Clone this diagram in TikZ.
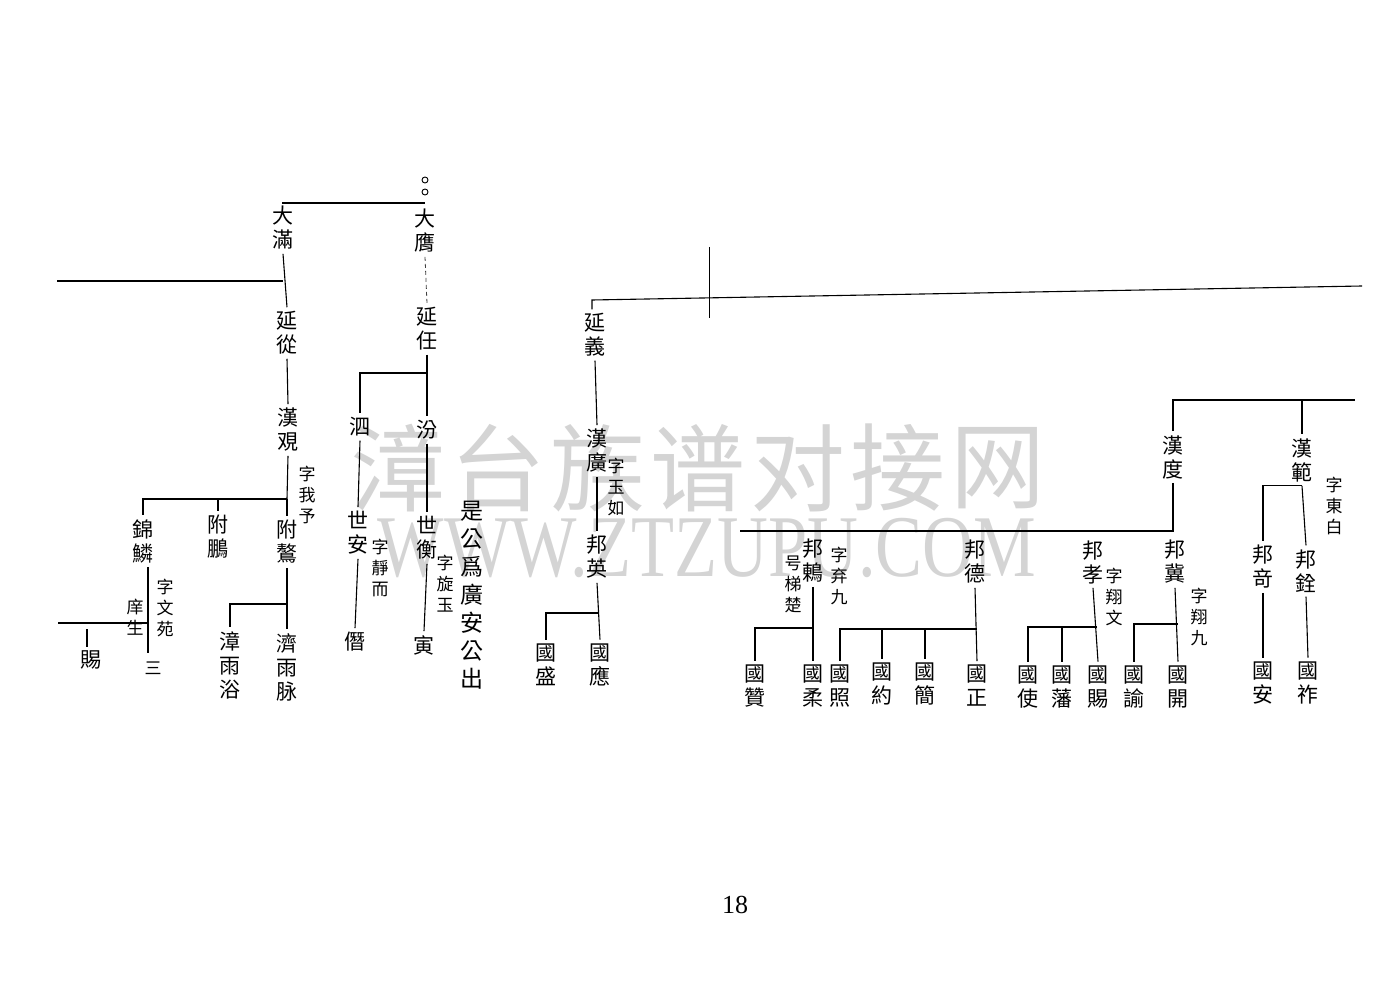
\documentclass[tikz,border=0pt]{standalone}
\usepackage{fontspec}
\newfontfamily\cjk{Noto Sans CJK TC}
\newfontfamily\cjksc{Noto Sans CJK SC}
\newfontfamily\wmser{Liberation Serif}
\begin{document}
\begin{tikzpicture}[x=1pt,y=-1pt,
  ln/.style={line width=1.1pt},
  nm/.style={font=\cjk\fontsize{21}{24}\selectfont, align=center, inner xsep=1pt, inner ysep=4pt},
  nt/.style={font=\cjk\fontsize{17}{21}\selectfont, align=center, inner sep=1pt},
  dot/.style={draw, circle, inner sep=0pt, minimum size=6pt, line width=0.9pt},
  wm/.style={font=\cjksc\fontsize{95}{95}\selectfont, text=black!17, inner sep=0pt}]
\useasboundingbox (0,0) rectangle (1400,1000);
% watermark
\foreach \c [count=\i from 0] in {漳,台,族,谱,对,接,网}
  \node[wm] (w\i) at (398+100*\i,468) {\c};
\node[font=\wmser\fontsize{88}{88}\selectfont, text=black!17, inner sep=0pt] (wurl) at (707,548) {\scalebox{0.8}[1]{WWW.ZTZUPU.COM}};

% ---------- left part ----------
\node[nm] (dm) at (283,228) {大\\滿};
\node[nm] (dy) at (425,231) {大\\膺};
\node[dot] (o1) at (425,180) {};
\node[dot] (o2) at (425,192) {};
\coordinate (j0) at (425,203);
\draw[ln] (dm.north) |- (j0);
\node[nm] (yc) at (287,333) {延\\從};
\draw[ln] (dm.south) -- (yc.north);
\coordinate (L1) at (57,281);
\draw[ln] (L1) -- (L1 -| dm.south);
\node[nm] (hg) at (288,430) {漢\\覌};
\draw[ln] (yc.south) -- (hg.north);
\node[nt] (n1) at (307,495) {字\\我\\予};
\coordinate (j1) at (287,499);
\draw[ln] (hg.south) -- (j1);
\node[nm] (jl) at (143,541) {錦\\鱗};
\node[nm] (fp) at (218,537) {附\\鵬};
\node[nm] (fa) at (287,542) {附\\鷔};
\draw[ln] (j1) -| (jl.north);
\draw[ln] (fp.north |- j1) -- (fp.north);
\draw[ln] (j1) -- (fa.north);
\node[nt] (n2) at (165,608) {字\\文\\苑};
\node[nt] (n3) at (135,617) {庠\\生};
\node[nt] (n4) at (153,668) {三};
\coordinate (k2) at (148,653);
\draw[ln] (jl.south -| k2) -- (k2);
\coordinate (L2) at (58,623);
\draw[ln] (L2) -- (L2 -| k2);
\node[nm] (ci) at (91,660) {賜};
\coordinate (t2) at (87,629);
\draw[ln] (t2) -- (t2 |- ci.north);
\node[nm] (z1) at (230,665) {漳\\雨\\浴};
\node[nm] (z2) at (287,667) {濟\\雨\\脉};
\coordinate (j3) at (285,604);
\draw[ln] (fa.south) -- (z2.north);
\draw[ln] (fa.south |- j3) -| (z1.north);

\node[nm] (yr) at (427,329) {延\\任};
\draw[line width=0.8pt, black!75, dash pattern=on 4pt off 3pt] (dy.south) -- (yr.north);
\node[nm] (si) at (360,427) {泗};
\node[nm] (fe) at (427,430) {汾};
\draw[ln] (yr.south) -- (fe.north);
\coordinate (j4) at (427,373);
\draw[ln] (j4) -| (si.north);
\node[nm] (sa) at (358,533) {世\\安};
\node[nt] (n5) at (380,568) {字\\靜\\而};
\node[nm] (sh) at (427,538) {世\\衡};
\node[nt] (n6) at (445,584) {字\\旋\\玉};
\draw[ln] (si.south) -- (sa.north);
\draw[ln] (fe.south) -- (sh.north);
\node[nm] (jn) at (355,642) {僭};
\node[nm] (yn) at (424,645) {寅};
\draw[ln] (sa.south) -- (jn.north);
\draw[ln] (sh.south) -- (yn.north);
\node[font=\cjk\fontsize{23}{28}\selectfont, align=center, inner sep=0pt] (n7) at (472,595) {是\\公\\爲\\廣\\安\\公\\出};

% ---------- middle part ----------
\node[nm] (yi) at (595,335) {延\\義};
\coordinate (t1) at (592,300);
\coordinate (R1) at (1362,286);
\draw[ln] (t1 |- yi.north) -- (t1) -- (R1);
\coordinate (v1) at (709,247);
\coordinate (v2) at (709,318);
\draw[line width=0.8pt] (v1) -- (v2);
\node[nm] (hk) at (597,451) {漢\\廣};
\node[nt] (n8) at (616,487) {字\\玉\\如};
\draw[ln] (yi.south) -- (hk.north);
\node[nm] (by) at (597,557) {邦\\英};
\draw[ln] (hk.south) -- (by.north);
\node[nm] (gs) at (546,665) {國\\盛};
\node[nm] (gy) at (600,665) {國\\應};
\draw[ln] (by.south) -- (gy.north);
\coordinate (j5) at (598,613);
\draw[ln] (j5) -| (gs.north);

% ---------- right part ----------
\node[nm] (hd) at (1173,457) {漢\\度};
\node[nm] (hf) at (1302,460) {漢\\範};
\node[nt] (n9) at (1334,506) {字\\東\\白};
\coordinate (R2) at (1355,400);
\draw[ln] (hd.north) |- (R2);
\draw[ln] (hf.north |- R2) -- (hf.north);
\coordinate (L3) at (740,531);
\draw[ln] (hd.south) |- (L3);

\node[nm] (bd) at (813,561) {邦\\鶇};
\node[nt] (n10) at (793,584) {号\\梯\\楚};
\node[nt] (n11) at (839,576) {字\\弃\\九};
\node[nm] (ga) at (755,686) {國\\贊};
\node[nm] (gr) at (813,686) {國\\柔};
\draw[ln] (bd.south) -- (gr.north);
\coordinate (j6) at (813,628);
\draw[ln] (j6) -| (ga.north);

\node[nm] (bde) at (975,562) {邦\\德};
\node[nm] (gzh) at (840,686) {國\\照};
\node[nm] (gyu) at (882,684) {國\\約};
\node[nm] (gj) at (925,684) {國\\簡};
\node[nm] (gzg) at (977,686) {國\\正};
\draw[ln] (bde.south) -- (gzg.north);
\coordinate (j7) at (977,629);
\draw[ln] (j7) -| (gzh.north);
\draw[ln] (gyu.north |- j7) -- (gyu.north);
\draw[ln] (gj.north |- j7) -- (gj.north);

\node[nm] (bx) at (1093,562) {邦\\孝};
\node[nt] (n12) at (1114,597) {字\\翔\\文};
\node[nm] (gsh) at (1028,687) {國\\使};
\node[nm] (gf) at (1062,687) {國\\藩};
\node[nm] (gc) at (1098,687) {國\\賜};
\draw[ln] (bx.south) -- (gc.north);
\coordinate (j8) at (1097,627);
\draw[ln] (j8) -| (gsh.north);
\draw[ln] (gf.north |- j8) -- (gf.north);

\node[nm] (bj) at (1175,562) {邦\\冀};
\node[nt] (n13) at (1199,617) {字\\翔\\九};
\node[nm] (gyy) at (1134,687) {國\\諭};
\node[nm] (gk) at (1178,687) {國\\開};
\draw[ln] (bj.south) -- (gk.north);
\coordinate (j9) at (1178,624);
\draw[ln] (j9) -| (gyy.north);

\node[nm] (bq) at (1263,567) {邦\\竒};
\node[nm] (bqn) at (1306,571) {邦\\銓};
\draw[ln] (hf.south) -- (bqn.north);
\draw[ln] (hf.south) -| (bq.north);
\node[nm] (gan) at (1263,683) {國\\安};
\node[nm] (gzu) at (1308,683) {國\\祚};
\draw[ln] (bq.south) -- (gan.north);
\draw[ln] (bqn.south) -- (gzu.north);

\node[font=\wmser\fontsize{26}{26}\selectfont, inner sep=0pt] (pg) at (735,905) {18};
\end{tikzpicture}
\end{document}
